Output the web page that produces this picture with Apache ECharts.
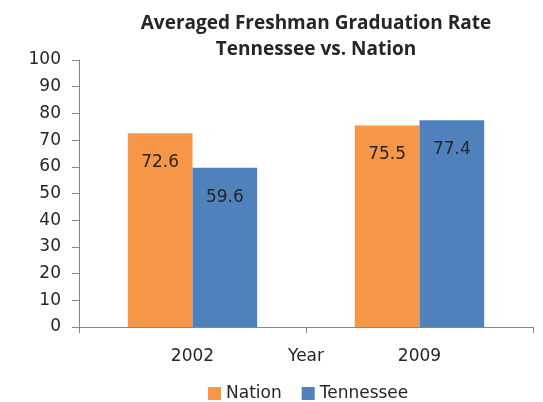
<!DOCTYPE html>
<html>
<head>
<meta charset="utf-8">
<script src="https://cdn.jsdelivr.net/npm/echarts@6/dist/echarts.min.js"></script>
<style>
html,body{margin:0;padding:0;background:#fff;}
#g_canvas{width:543px;height:402px;}
</style>
</head>
<body>
<div id="g_canvas"></div>
<script>
// 数据
var years = ['2002', '2009'];
var nation = [72.6, 75.5];
var tennessee = [59.6, 77.4];
var yTicks = [0, 10, 20, 30, 40, 50, 60, 70, 80, 90, 100];

var font = 'DejaVu Sans';
var textColor = '#262626';
var labelStyle = {
	show: true,
	position: 'insideTop',
	distance: 21,
	fontFamily: font,
	fontSize: 17,
	color: textColor
};

option = {
	animation: false,
	title: {
		text: 'Averaged Freshman Graduation Rate\nTennessee vs. Nation',
		left: 311,
		top: 6,
		textAlign: 'center',
		textStyle: {
			fontFamily: 'Open Sans',
			fontSize: 19,
			fontWeight: 'bold',
			color: textColor,
			lineHeight: 26
		}
	},
	legend: {
		top: 380,
		left: 203,
		itemWidth: 13,
		itemHeight: 13,
		itemGap: 20,
		icon: 'rect',
		textStyle: {
			fontFamily: font,
			fontSize: 17,
			color: textColor
		},
		data: ['Nation', 'Tennessee']
	},
	grid: {
		left: 79,
		right: 10,
		top: 60,
		bottom: 75
	},
	xAxis: {
		type: 'category',
		data: years,
		name: 'Year',
		nameLocation: 'middle',
		nameGap: 21,
		nameMoveOverlap: false,
		nameTextStyle: {
			fontFamily: font,
			fontSize: 17,
			color: textColor,
			verticalAlign: 'top'
		},
		axisLine: {
			show: true,
			lineStyle: { color: '#868686' }
		},
		axisTick: {
			show: true,
			length: 6,
			lineStyle: { color: '#868686' }
		},
		axisLabel: {
			margin: 21,
			fontFamily: font,
			fontSize: 17,
			color: textColor
		}
	},
	yAxis: {
		type: 'value',
		min: yTicks[0],
		max: yTicks[yTicks.length - 1],
		interval: 10,
		splitLine: { show: false },
		axisLine: {
			show: true,
			lineStyle: { color: '#868686' }
		},
		axisTick: {
			show: true,
			length: 7,
			lineStyle: { color: '#868686' }
		},
		axisLabel: {
			margin: 18,
			fontFamily: font,
			fontSize: 17,
			color: textColor
		}
	},
	series: [{
		name: 'Nation',
		type: 'bar',
		data: nation,
		barGap: '0%',
		barCategoryGap: '43%',
		itemStyle: { color: '#F79646' },
		label: labelStyle
	}, {
		name: 'Tennessee',
		type: 'bar',
		data: tennessee,
		itemStyle: { color: '#4F81BD' },
		label: labelStyle
	}]
};
var myChart = echarts.init(document.getElementById('g_canvas'));
myChart.setOption(option);
</script>
</body>
</html>
